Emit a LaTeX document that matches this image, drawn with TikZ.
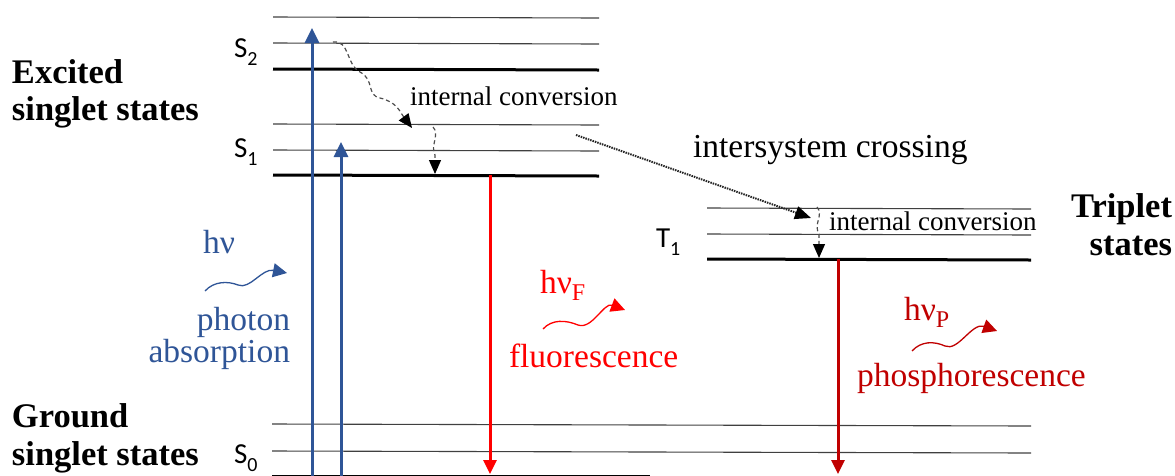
\documentclass[tikz,border=0pt]{standalone}
\usepackage{fontspec}
\setmainfont{Liberation Serif}
\newfontfamily\lblfont{Carlito}
\usetikzlibrary{arrows.meta}
\definecolor{myblue}{HTML}{2F5597}
\definecolor{fred}{HTML}{FF0000}
\definecolor{pred}{HTML}{C00000}
\newcommand{\lowsub}[1]{\raisebox{-0.28em}{\fontsize{20}{20}\selectfont #1}}
\newcommand{\txtsub}[1]{\raisebox{-0.22em}{\fontsize{24}{24}\selectfont #1}}
\begin{document}
\begin{tikzpicture}[x=1pt,y=-1pt,
  thinlvl/.style={draw=black!75, line width=1.1pt},
  thicklvl/.style={draw=black, line width=3pt},
  txt/.style={inner sep=0pt, outer sep=0pt},
  boldlbl/.style={txt, font=\fontsize{34.5}{34.5}\selectfont\bfseries},
  slbl/.style={txt, font=\lblfont\fontsize{29}{29}\selectfont},
  ictext/.style={txt, font=\fontsize{27}{27}\selectfont},
  bigtxt/.style={txt, font=\fontsize{33.5}{33.5}\selectfont},
  bluearr/.style={draw=myblue, line width=3pt, -{Triangle[length=15pt,width=14pt]}},
  redarr/.style={line width=3pt, -{Triangle[length=14pt,width=13pt]}},
  icarr/.style={draw=black!70, line width=1.2pt, dash pattern=on 4pt off 3pt,
     -{Triangle[length=14pt,width=12pt,color=black]}},
  iscarr/.style={draw=black!85, line width=2pt, dash pattern=on 1.5pt off 1pt,
     -{Triangle[length=16pt,width=13pt,color=black]}},
  wavearr/.style={line width=1.3pt, -{Triangle[length=14pt,width=14pt]}}
]
\useasboundingbox (0,0) rectangle (1175,475);

% ---- energy levels ----
% S2
\draw[thinlvl] (273,17) -- (599,18);
\draw[thinlvl] (273,43) -- (599,44);
\draw[thicklvl] (273,69) -- (599,70);
% S1
\draw[thinlvl] (273,124) -- (599,125);
\draw[thinlvl] (273,150) -- (599,151);
\draw[thicklvl] (273,175) -- (599,176);
% T1
\draw[thinlvl] (707,208) -- (1031,209);
\draw[thinlvl] (707,234) -- (1031,235);
\draw[thicklvl] (707,259) -- (1031,260);
% S0
\draw[thinlvl] (272,424) -- (1031,426);
\draw[thinlvl] (272,451) -- (1031,453);
\draw[thicklvl] (272,476) -- (650,476);

% ---- level labels ----
\node[slbl, anchor=base west] (s2) at (234,57) {S\lowsub{2}};
\node[slbl, anchor=base west] (s1) at (234,157) {S\lowsub{1}};
\node[slbl, anchor=base west] (t1) at (656,247) {T\lowsub{1}};
\node[slbl, anchor=base west] (s0) at (234,463) {S\lowsub{0}};

\node[boldlbl, anchor=base west] (exc1) at (12,83) {Excited};
\node[boldlbl, anchor=base west] (exc2) at (12,120) {singlet states};
\node[boldlbl, anchor=base west] (gr1) at (12,427) {Ground};
\node[boldlbl, anchor=base west] (gr2) at (12,465) {singlet states};
\node[boldlbl, anchor=base east] (tr1) at (1172,217) {Triplet};
\node[boldlbl, anchor=base east] (tr2) at (1172,255) {states};

% ---- coordinates for transitions ----
\coordinate (abs1s) at (312,478);
\coordinate (abs1e) at (312,28);
\coordinate (abs2s) at (341,478);
\coordinate (abs2e) at (341,142);
\coordinate (flus) at (490,175);
\coordinate (flue) at (490,474);
\coordinate (phos) at (838,259);
\coordinate (phoe) at (838,474);
\coordinate (ic1s) at (333,42);
\coordinate (ic1e) at (412,128);
\coordinate (ic2s) at (433,127);
\coordinate (ic2e) at (435,174);
\coordinate (iscs) at (576,135);
\coordinate (isce) at (811,218);
\coordinate (ic3s) at (817,207);
\coordinate (ic3e) at (819,258);

% ---- absorption / emission arrows ----
\draw[bluearr] (abs1s) -- (abs1e);
\draw[bluearr] (abs2s) -- (abs2e);
\draw[redarr, draw=fred] (flus) -- (flue);
\draw[redarr, draw=pred] (phos) -- (phoe);

% ---- internal conversion / ISC ----
\draw[icarr] (ic1s) .. controls (350,40) and (346,65) .. (360,72)
   .. controls (375,80) and (366,95) .. (380,98)
   .. controls (397,102) and (400,112) .. (ic1e);
\draw[icarr] (ic2s) .. controls (440,134) and (430,146) .. (435,155) -- (ic2e);
\draw[iscarr] (iscs) -- (isce);
\draw[icarr] (ic3s) .. controls (824,215) and (813,224) .. (819,234) -- (ic3e);

\node[ictext, anchor=base west] (ictop) at (410,105) {internal conversion};
\node[ictext, anchor=base west] (ict1) at (829,230) {internal conversion};
\node[bigtxt, anchor=base west] (isc) at (693,157) {intersystem crossing};

% ---- photons ----
\node[bigtxt, text=myblue, anchor=base west] (hnu) at (203,253) {hν};
\draw[wavearr, draw=myblue] (205,291) .. controls (214,281) and (228,281) .. (238,285)
   .. controls (250,290) and (262,268) .. (287,273);
\node[bigtxt, text=myblue, anchor=base east] (pa1) at (290,330) {photon};
\node[bigtxt, text=myblue, anchor=base east] (pa2) at (290,362) {absorption};

\node[bigtxt, text=fred, anchor=base west] (hnuf) at (540,293) {hν\txtsub{F}};
\draw[wavearr, draw=fred] (543,329) .. controls (552,319) and (566,320) .. (578,325)
   .. controls (592,330) and (604,302) .. (625,310);
\node[bigtxt, text=fred, anchor=base west] (fl) at (509,367) {fluorescence};

\node[bigtxt, text=pred, anchor=base west] (hnup) at (904,320) {hν\txtsub{P}};
\draw[wavearr, draw=pred] (912,351) .. controls (921,341) and (934,341) .. (945,346)
   .. controls (958,352) and (972,322) .. (997,331);
\node[bigtxt, text=pred, anchor=base west] (ph) at (857,386) {phosphorescence};
\end{tikzpicture}
\end{document}
